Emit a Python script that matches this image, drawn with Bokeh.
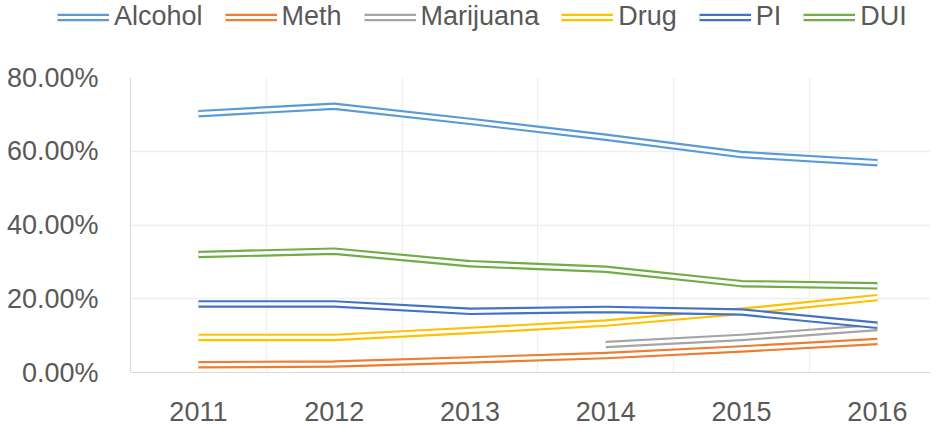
import numpy as np
from bokeh.plotting import figure
from bokeh.layouts import column
from bokeh.models import (Range1d, FixedTicker, NumeralTickFormatter, Legend,
                          LegendItem, ColumnDataSource, CustomJSTickFormatter)
from bokeh.embed import file_html
from bokeh.resources import INLINE

years = [2011, 2012, 2013, 2014, 2015, 2016]
series_names = ["Alcohol", "Meth", "Marijuana", "Drug", "PI", "DUI"]
alcohol = [0.702, 0.722, 0.681, 0.638, 0.591, 0.569]
meth = [0.021, 0.023, 0.034, 0.046, 0.064, 0.084]
marijuana = [None, None, None, 0.076, 0.095, 0.122]
drug = [0.095, 0.095, 0.114, 0.134, 0.166, 0.203]
pi = [0.186, 0.186, 0.166, 0.171, 0.164, 0.128]
dui = [0.320, 0.329, 0.295, 0.280, 0.241, 0.235]
colors = ["#5B9BD5", "#ED7D31", "#A5A5A5", "#FFC000", "#4472C4", "#70AD47"]
y_ticks = [0.0, 0.2, 0.4, 0.6, 0.8]

FONT = "Liberation Sans"
TXT = "#595959"
OUTER_W = 7.5
INNER_W = 3.2

# ---- main chart ----
p = figure(width=930, height=389, output_backend="svg", toolbar_location=None,
           x_range=Range1d(2010.5, 2016.391), y_range=Range1d(0, 0.8),
           min_border_left=130, min_border_right=0, min_border_top=37,
           min_border_bottom=57)
p.outline_line_color = None
p.background_fill_color = "white"
p.border_fill_color = "white"

p.xaxis.ticker = FixedTicker(ticks=years)
p.xaxis.formatter = CustomJSTickFormatter(code="return String(tick)")
p.yaxis.ticker = FixedTicker(ticks=y_ticks)
p.yaxis.formatter = NumeralTickFormatter(format="0.00%")
for ax in (p.xaxis[0], p.yaxis[0]):
    ax.axis_line_color = "#D9D9D9"
    ax.axis_line_width = 1
    ax.major_tick_line_color = None
    ax.minor_tick_line_color = None
    ax.major_tick_in = 0
    ax.major_tick_out = 0
    ax.major_label_text_font = FONT
    ax.major_label_text_font_size = "27px"
    ax.major_label_text_color = TXT
p.yaxis.major_label_standoff = 32
p.xaxis.major_label_standoff = 29

p.xgrid.ticker = FixedTicker(ticks=[y + 0.5 for y in years[:-1]])
p.ygrid.ticker = FixedTicker(ticks=y_ticks[1:])
p.xgrid.grid_line_color = "#EFEFEF"
p.ygrid.grid_line_color = "#EFEFEF"
p.xgrid.grid_line_width = 1.3
p.ygrid.grid_line_width = 1.3

data = [alcohol, meth, marijuana, drug, pi, dui]
for name, vals, col in zip(series_names, data, colors):
    xs = [x for x, v in zip(years, vals) if v is not None]
    ys = [v for v in vals if v is not None]
    src = ColumnDataSource(dict(x=xs, y=ys))
    p.line("x", "y", source=src, line_color=col, line_width=OUTER_W,
           line_join="round")
    p.line("x", "y", source=src, line_color="white", line_width=INNER_W,
           line_join="round")

# ---- legend strip above the chart ----
lg = figure(width=930, height=40, output_backend="svg", toolbar_location=None,
            x_range=Range1d(0, 1), y_range=Range1d(0, 1),
            min_border_left=0, min_border_right=0, min_border_top=0,
            min_border_bottom=0)
lg.axis.visible = False
lg.grid.visible = False
lg.outline_line_color = None
lg.background_fill_color = "white"
lg.border_fill_color = "white"

for fig in (lg, p):
    if "frame_align" in fig.properties():
        fig.frame_align = False

items = []
for name, col in zip(series_names, colors):
    # placeholder source (NaN -> nothing drawn) so the legend sample has a style
    src = ColumnDataSource(dict(x=[np.nan], y=[np.nan]))
    r1 = lg.line("x", "y", source=src, line_color=col, line_width=OUTER_W)
    r2 = lg.line("x", "y", source=src, line_color="white", line_width=INNER_W)
    items.append(LegendItem(label=name, renderers=[r1, r2]))

legend = Legend(items=items, orientation="horizontal", location=(57, 8),
                padding=0, margin=0, spacing=22, label_standoff=5,
                glyph_width=52, glyph_height=20, label_height=20,
                label_text_font=FONT, label_text_font_size="27px",
                label_text_color=TXT, border_line_alpha=0,
                background_fill_alpha=0)
lg.add_layout(legend)

layout = column(lg, p, spacing=0)
open("out.html", "w").write(file_html(layout, INLINE))
